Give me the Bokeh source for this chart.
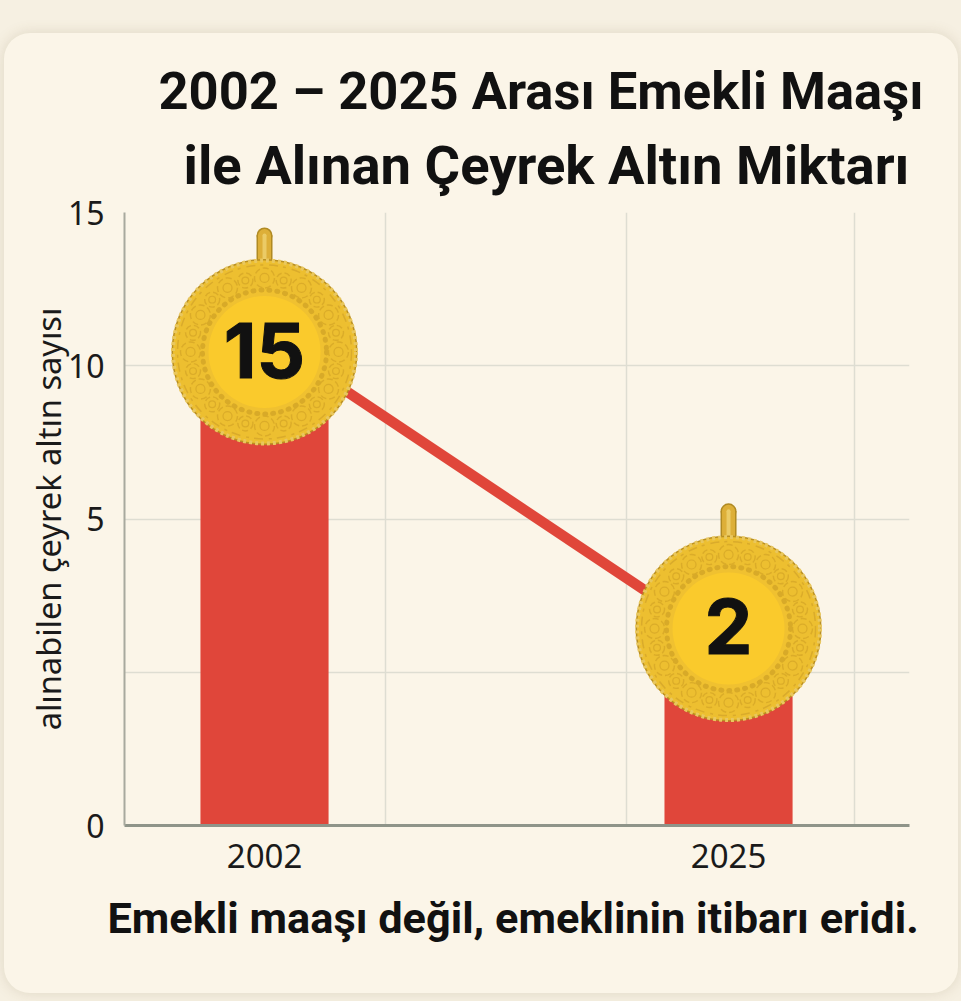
import numpy as np
from bokeh.core.properties import value
from bokeh.plotting import figure
from bokeh.models import ColumnDataSource, FixedTicker, Grid, InlineStyleSheet, Range1d, Title
from bokeh.embed import file_html
from bokeh.resources import INLINE

# ---- data ----
years = [2002, 2025]
year_labels = ["2002", "2025"]
coin_labels = ["15", "2"]
# The printed y axis is not linear: its labels sit on equally spaced steps.
tick_steps = [0, 2, 3, 4]
tick_labels = ["0", "5", "10", "15"]
grid_steps = [1, 2, 3, 4]
bar_tops = [3.19, 1.17]
coin_centres = [3.09, 1.285]
coin_number_centres = [3.10, 1.30]
loop_caps = [3.85, 2.05]
loop_bottoms = [3.55, 1.75]
vertical_grid_years = [2008.0, 2019.95, 2031.25]

title_lines = ["2002 – 2025 Arası Emekli Maaşı", "ile Alınan Çeyrek Altın Miktarı"]
y_title = "alınabilen çeyrek altın sayısı"
footer = "Emekli maaşı değil, emeklinin itibarı eridi."

PAGE = "#F6F0E2"
CARD = "#FBF5E8"
RED = "#E0463A"
INK = "#111111"
TITLE_FONT = "Roboto"
NUMBER_FONT = "Inter"

X0, X1 = 1995.06, 2033.97
FRAME_L, FRAME_R, FRAME_T, FRAME_B = 124, 909, 212, 825
PX_PER_YEAR = (FRAME_R - FRAME_L) / (X1 - X0)
PX_PER_STEP = (FRAME_B - FRAME_T) / 4

card_css = InlineStyleSheet(css=f"""
:host::before {{
  content: ""; position: absolute; left: 4px; right: 3px; top: 33px; bottom: 8px;
  background: {CARD}; border-radius: 26px; box-shadow: 0 0 14px rgba(120, 100, 60, 0.18);
}}
""")

p = figure(width=961, height=1001, output_backend="svg", toolbar_location=None,
           x_range=Range1d(X0, X1), y_range=Range1d(0, 4),
           min_border_left=FRAME_L, min_border_right=961 - FRAME_R,
           min_border_top=FRAME_T, min_border_bottom=1001 - FRAME_B,
           border_fill_color=None, background_fill_color=None, outline_line_color=None,
           styles={"background-color": PAGE}, stylesheets=[card_css])

# grids and axes
p.xgrid.visible = False
p.ygrid.visible = False
p.add_layout(Grid(dimension=1, ticker=FixedTicker(ticks=grid_steps),
                  grid_line_color="#DEDDD2", grid_line_width=1.5, level="underlay"))
p.add_layout(Grid(dimension=0, ticker=FixedTicker(ticks=vertical_grid_years),
                  grid_line_color="#DEDDD2", grid_line_width=1.5, level="underlay"))

p.yaxis.ticker = FixedTicker(ticks=tick_steps)
p.yaxis.major_label_overrides = dict(zip(tick_steps, tick_labels))
p.yaxis.major_tick_line_color = None
p.yaxis.minor_tick_line_color = None
p.yaxis.axis_line_color = "#A8A99E"
p.yaxis.axis_line_width = 2
p.yaxis.major_label_standoff = 14
p.yaxis.major_label_text_font = "Noto Sans"
p.yaxis.major_label_text_font_size = "32px"
p.yaxis.major_label_text_color = "#1A1A1A"
p.yaxis.axis_label = y_title
p.yaxis.axis_label_text_font = "Noto Sans"
p.yaxis.axis_label_text_font_style = "normal"
p.yaxis.axis_label_text_font_size = "32.6px"
p.yaxis.axis_label_text_color = "#1A1A1A"
p.yaxis.axis_label_standoff = -6

p.xaxis.ticker = FixedTicker(ticks=years)
p.xaxis.major_label_overrides = dict(zip(years, year_labels))
p.xaxis.major_tick_line_color = None
p.xaxis.minor_tick_line_color = None
p.xaxis.axis_line_color = "#8F9489"
p.xaxis.axis_line_width = 3
p.xaxis.major_label_standoff = 12
p.xaxis.major_label_text_font = "Noto Sans"
p.xaxis.major_label_text_font_size = "33px"
p.xaxis.major_label_text_color = "#1A1A1A"

src = ColumnDataSource(dict(x=years, top=bar_tops, coin=coin_centres, number_y=coin_number_centres,
                            label=coin_labels, cap=loop_caps, low=loop_bottoms))

# bars and connecting line
p.vbar(x="x", top="top", bottom=0, width=6.35, source=src, fill_color=RED, line_color=None)
p.line(x="x", y="top", source=src, line_color=RED, line_width=10.5)

# coin loops (capsule: round cap plus straight stem)
for w, colour in ((16, "#B08A22"), (13, "#DDAF38"), (4, "#EBCB66")):
    p.segment(x0="x", x1="x", y0="low", y1="cap", source=src, line_color=colour, line_width=w)
    p.scatter(x="x", y="cap", size=w, source=src, marker="circle", fill_color=colour, line_color=None)

# coin body, rim and ornaments
p.scatter(x="x", y="coin", size=186, source=src, marker="circle", fill_color="#B98F22", line_color=None)
p.scatter(x="x", y="coin", size=183, source=src, marker="circle", fill_color="#EDBF30",
          line_color="#E9C75E", line_width=4, line_dash="3 3")

# ornament: little scrolls around the coin face, placed relative to each coin centre
angles = np.arange(0, 360, 15) * np.pi / 180
orn_x, orn_y, orn_big = [], [], []
for cx, cy in zip(years, coin_centres):
    orn_x += list(cx + 74 * np.cos(angles) / PX_PER_YEAR)
    orn_y += list(cy + 74 * np.sin(angles) / PX_PER_STEP)
    orn_big += [15 if i % 2 else 20 for i in range(len(angles))]
p.scatter(x=orn_x, y=orn_y, size=orn_big, marker="circle", fill_color=None,
          line_color="#C99A22", line_width=1.4, line_alpha=0.5, line_dash="6 3")
p.scatter(x=orn_x, y=orn_y, size=[s * 0.45 for s in orn_big], marker="circle", fill_color=None,
          line_color="#C99A22", line_width=1.2, line_alpha=0.5)
p.scatter(x="x", y="coin", size=174, source=src, marker="circle", fill_color=None,
          line_color="#D2A32A", line_width=1.5, line_dash="9 5 3 6", line_alpha=0.7)
p.scatter(x="x", y="coin", size=124, source=src, marker="circle", fill_color="#F0C130",
          line_color="#D8AA28", line_width=5, line_dash="1 7", line_cap="round")
p.scatter(x="x", y="coin", size=112, source=src, marker="circle", fill_color="#FACA2C", line_color=None)
p.text(x="x", y="number_y", text="label", source=src, text_align="center", text_baseline="middle",
       text_font=value(NUMBER_FONT), text_font_style="bold", text_font_size="76px", text_color=INK,
       text_outline_color=INK)

# title lines and footer live in the panels around the frame
p.add_layout(Title(text=title_lines[1], align="left", offset=59, standoff=32, text_font=TITLE_FONT,
                   text_font_style="bold", text_font_size="54.4px", text_color=INK), "above")
p.add_layout(Title(text=title_lines[0], align="left", offset=34, standoff=-12, text_font=TITLE_FONT,
                   text_font_style="bold", text_font_size="52.5px", text_color=INK), "above")
p.add_layout(Title(text=footer, align="left", offset=-17, standoff=41, text_font=TITLE_FONT,
                   text_font_style="bold", text_font_size="43.3px", text_color=INK), "below")

open("out.html", "w").write(file_html(p, INLINE))
